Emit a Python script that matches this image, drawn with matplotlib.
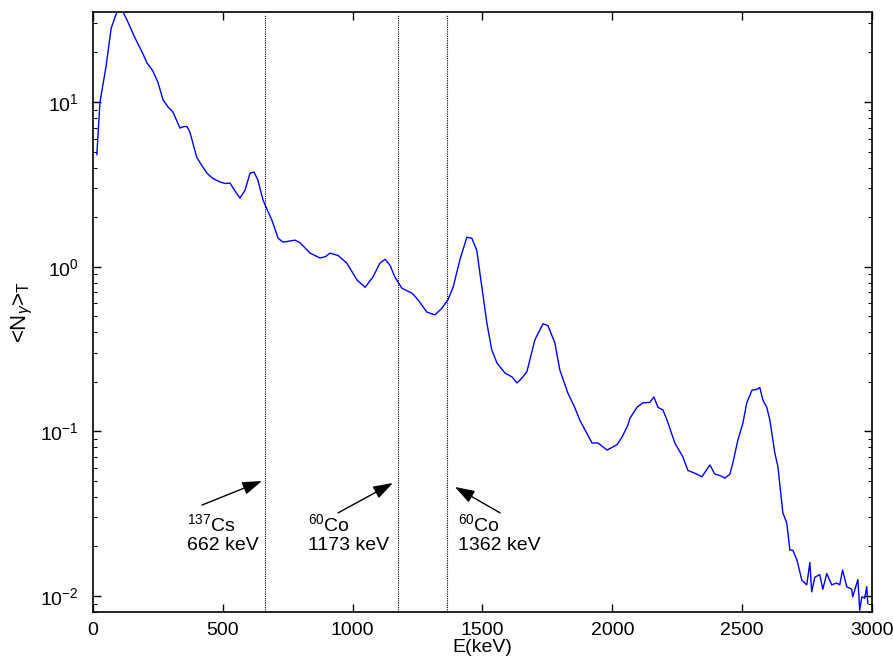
import numpy as np
import matplotlib
matplotlib.use('Agg')
import matplotlib.pyplot as plt

plt.rcParams['font.family'] = ['Liberation Sans', 'DejaVu Sans']
plt.rcParams['mathtext.fontset'] = 'custom'
plt.rcParams['mathtext.rm'] = 'Liberation Sans'
plt.rcParams['mathtext.it'] = 'Liberation Sans:italic'
plt.rcParams['mathtext.bf'] = 'Liberation Sans:bold'

# spectrum
energy = [15, 27, 50, 70, 90, 100, 115, 131, 162, 190, 208, 230, 250, 270, 290, 308,
          335, 350, 362, 373, 400, 420, 439, 460, 489, 510, 528, 540, 566, 585, 605, 620,
          635, 655, 672, 689, 713, 732, 755, 778, 797, 836, 874, 895, 913, 944, 978,
          1017, 1048, 1078, 1105, 1125, 1144, 1163, 1190, 1229, 1252, 1286, 1317, 1344,
          1367, 1387, 1413, 1440, 1459, 1478, 1498, 1517, 1536, 1556, 1587, 1614, 1633,
          1645, 1671, 1702, 1733, 1752, 1779, 1798, 1829, 1856, 1875, 1895, 1922, 1945,
          1980, 2018, 2037, 2060, 2068, 2095, 2118, 2145, 2160, 2176, 2195, 2211, 2241,
          2272, 2291, 2326, 2345, 2376, 2395, 2414, 2434, 2453, 2465, 2484, 2503, 2518,
          2538, 2557, 2568, 2580, 2595, 2607, 2626, 2638, 2657, 2672, 2684, 2695, 2711,
          2730, 2749, 2761, 2768, 2780, 2799, 2811, 2826, 2845, 2864, 2876, 2887, 2903,
          2922, 2926, 2946, 2953, 2961, 2972, 2980, 2984]
counts = [4.8, 10, 16.3, 28, 34.5, 36, 35.5, 31.5, 24.5, 20, 17.3, 15.5, 13.2, 10.3, 9.3, 8.7,
          6.95, 7.1, 7.1, 6.6, 4.6, 4.1, 3.7, 3.45, 3.27, 3.2, 3.22, 3.0, 2.61, 2.9, 3.7, 3.76,
          3.36, 2.54, 2.2, 1.92, 1.49, 1.41, 1.43, 1.45, 1.40, 1.21, 1.13, 1.15, 1.21, 1.17, 1.05,
          0.83, 0.75, 0.865, 1.05, 1.11, 1.02, 0.865, 0.74, 0.69, 0.63, 0.53, 0.51, 0.56,
          0.63, 0.75, 1.10, 1.51, 1.49, 1.26, 0.75, 0.455, 0.312, 0.26, 0.226, 0.214, 0.197,
          0.205, 0.23, 0.36, 0.45, 0.44, 0.344, 0.236, 0.171, 0.139, 0.117, 0.102, 0.085, 0.085,
          0.077, 0.083, 0.092, 0.109, 0.12, 0.14, 0.149, 0.15, 0.162, 0.14, 0.135, 0.117, 0.085,
          0.07, 0.058, 0.055, 0.053, 0.0625, 0.055, 0.054, 0.052, 0.055, 0.065, 0.089, 0.112, 0.149,
          0.178, 0.18, 0.185, 0.155, 0.14, 0.117, 0.074, 0.061, 0.032, 0.0278, 0.019, 0.019, 0.0166,
          0.0125, 0.0117, 0.016, 0.0106, 0.013, 0.0135, 0.011, 0.0137, 0.0117, 0.012, 0.0117, 0.0144, 0.0114,
          0.011, 0.0099, 0.0126, 0.0082, 0.0099, 0.0097, 0.0114, 0.009]

lines_kev = [662, 1173, 1362]
labels = ['$^{137}$Cs\n662 keV', '$^{60}$Co\n1173 keV', '$^{60}$Co\n1362 keV']
label_x = [362, 828, 1406]
arrow_tail = [(420, 0.0357), (944, 0.032), (1568, 0.032)]
arrow_head = [(651, 0.05), (1155, 0.0486), (1394, 0.046)]

fig = plt.figure(figsize=(8.93, 6.62), dpi=100)
ax = fig.add_axes([0.1041, 0.0755, 0.8723, 0.9063])

ax.semilogy(energy, counts, color='#0000ff', lw=1.0)

for e in lines_kev:
    ax.axvline(e, ymin=0, ymax=0.995, color='black', ls=(0, (1, 1)), lw=0.8)

for lab, lx, tail, head in zip(labels, label_x, arrow_tail, arrow_head):
    ax.annotate('', xy=head, xytext=tail,
                arrowprops=dict(arrowstyle='-|>,head_length=0.6,head_width=0.2',
                                color='black', lw=1.0,
                                mutation_scale=20, shrinkA=0, shrinkB=0))
    ax.text(lx, 0.032, lab, ha='left', va='top', fontsize=14, linespacing=1.2)

ax.set_xlim(0, 3000)
ax.set_ylim(0.008, 35.2)
ax.set_xticks([0, 500, 1000, 1500, 2000, 2500, 3000])
ax.tick_params(which='both', direction='in', top=True, right=True, labelsize=14)
ax.tick_params(axis='y', pad=10)
ax.tick_params(axis='x', pad=7)
ax.tick_params(which='major', length=6, width=1)
ax.tick_params(which='minor', length=3, width=0.8)
ax.xaxis.set_minor_locator(matplotlib.ticker.NullLocator())
for s in ax.spines.values():
    s.set_linewidth(1.2)

ax.set_xlabel('E(keV)', fontsize=14, labelpad=0)
ax.set_ylabel(r'<N$_\gamma$>$_\mathrm{T}$', fontsize=16, labelpad=4)

fig.savefig('out.png', dpi=100)
